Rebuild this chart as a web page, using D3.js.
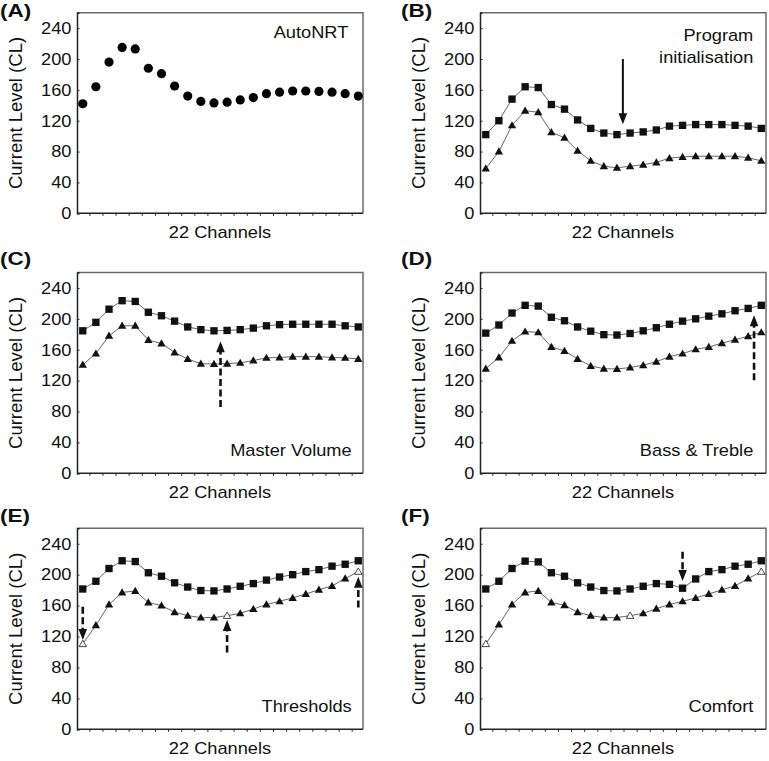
<!DOCTYPE html>
<html>
<head>
<meta charset="utf-8">
<script src="https://cdn.jsdelivr.net/npm/d3@7/dist/d3.min.js"></script>
<style>
  html, body { margin: 0; padding: 0; background: #fff; }
  svg { display: block; }
  text { font-family: "Liberation Sans", Arial, sans-serif; fill: #111; }
</style>
</head>
<body>
<svg id="chart" width="769" height="761"></svg>
<script>
// ---------------- DATA ----------------
const channels = d3.range(1, 23);
const yTicks = [0, 40, 80, 120, 160, 200, 240];
const xAxisLabel = "22 Channels";
const yAxisLabel = "Current Level (CL)";

const autoNRT = [142,164,196,215,213,188,181,165,152,145,143,144,147,150,155,157,158.5,158.5,158,157,155,152];

const progComfort = [102,120,148,164,163,141,135,121,110,104,102,104,105.5,108,113,114,115,115,115,114,113,110];
const progThreshold = [58,80,114,133,131,105,98,81,68,61,59,61,63,66,71.5,73,74,74,74,74,72,68];

const volComfort = [184.5,195.5,212.5,223.5,222.5,208.5,204,197,189.5,186,184.5,185,186,188,191,192.5,193,193,193,193,191,189.5];
const volThreshold = [140.5,155,178,191,191,172.5,168,156.5,148,142,141.5,142,143,146,149.5,150,151,151,151,150,149.5,148];

const btComfort = [181.5,192,207.5,217.5,216.5,202,197.5,189.5,184,179.5,179,181,184.5,188.5,193,197,200,203.5,206.5,210.5,213.5,217.5];
const btThreshold = [135.5,150,171.5,183.5,182.5,163.5,158.5,148,139,135.5,135,137,140,144.5,151,155,160.5,163.5,168.5,173,177.5,182.5];

const thrComfort = [181.5,191.5,208,218,217,202.5,198,189.5,184,179.5,179,181.5,185,188.5,193,197,200,204,206.5,211,213.5,218];
const thrThreshold = [110.5,134.5,161.5,177,179,164,160,151.5,147,144.5,144.5,147,150,155.5,161.5,165.5,170,175,180.5,185.5,195,204];
const thrOpen = [1, 12, 22];

const cmfComfort = [181.5,191.5,208,217.5,216.5,202.5,198,189.5,184,179.5,179,181.5,185,188.5,187.5,182.5,194.5,204,206.5,211,213.5,218];
const cmfThreshold = [110.5,135.5,161.5,177,179,164,160.5,151.5,147,144.5,144.5,147,150,156,161.5,165.5,170,175,180.5,185.5,195,204];
const cmfOpen = [1, 12, 22];

// arrows: channel position, value at tail, value at tip
const arrowsB = [{x: 11.45, from: 200, to: 115.5, dashed: false}];
const arrowsC = [{x: 11.5, from: 86, to: 171, dashed: true}];
const arrowsD = [{x: 21.45, from: 120.5, to: 204.5, dashed: true}];
const arrowsE = [
  {x: 1, from: 158.5, to: 115.5, dashed: true},
  {x: 12, from: 99.5, to: 141.3, dashed: true},
  {x: 22, from: 157.7, to: 197.3, dashed: true}
];
const arrowsF = [{x: 16, from: 229.6, to: 191.7, dashed: true}];

// ---------------- LAYOUT ----------------
const cols = [{l: 77, r: 363}, {l: 480, r: 766}];
const rows = [{t: 12.7, b: 213.3}, {t: 272.5, b: 473.3}, {t: 528.3, b: 729.3}];
const SX = 1.14; // horizontal text stretch of the original figure

const panels = [
  {letter: "(A)", col: 0, row: 0, lx: 0, ly: 16.5, notes: ["AutoNRT"], noteTop: true, noteBase: 25.6, noteInset: 14.7,
   series: [{values: autoNRT, shape: "circle", line: false}], arrows: []},
  {letter: "(B)", col: 1, row: 0, lx: 401, ly: 16.5, notes: ["Program", "initialisation"], noteTop: true, noteBase: 28.7, noteInset: 12.7,
   series: [{values: progComfort, shape: "square", line: true}, {values: progThreshold, shape: "triangle", line: true}], arrows: arrowsB},
  {letter: "(C)", col: 0, row: 1, lx: 0, ly: 265, notes: ["Master Volume"], noteTop: false, noteBase: -17.3, noteInset: 11.3,
   series: [{values: volComfort, shape: "square", line: true}, {values: volThreshold, shape: "triangle", line: true}], arrows: arrowsC},
  {letter: "(D)", col: 1, row: 1, lx: 401, ly: 265, notes: ["Bass & Treble"], noteTop: false, noteBase: -17.3, noteInset: 12.7,
   series: [{values: btComfort, shape: "square", line: true}, {values: btThreshold, shape: "triangle", line: true}], arrows: arrowsD},
  {letter: "(E)", col: 0, row: 2, lx: 0, ly: 521.5, notes: ["Thresholds"], noteTop: false, noteBase: -17.6, noteInset: 11.3,
   series: [{values: thrComfort, shape: "square", line: true}, {values: thrThreshold, shape: "triangle", line: true, open: thrOpen}], arrows: arrowsE},
  {letter: "(F)", col: 1, row: 2, lx: 401, ly: 521.5, notes: ["Comfort"], noteTop: false, noteBase: -17.6, noteInset: 12.7,
   series: [{values: cmfComfort, shape: "square", line: true}, {values: cmfThreshold, shape: "triangle", line: true, open: cmfOpen}], arrows: arrowsF}
];

const svg = d3.select("#chart");

function sText(parent, x, y, str, size, anchor, weight, sx) {
  const g = parent.append("g").attr("transform", `translate(${x},${y}) scale(${sx || SX},1)`);
  return g.append("text").attr("x", 0).attr("y", 0)
    .attr("font-size", size).attr("text-anchor", anchor || "start")
    .attr("font-weight", weight || "normal").text(str);
}

const sqSym = d3.symbol().type(d3.symbolSquare).size(54);
const triSym = d3.symbol().type(d3.symbolTriangle).size(30);
const triOpenSym = d3.symbol().type(d3.symbolTriangle).size(24);

panels.forEach(p => {
  const c = cols[p.col], r = rows[p.row];
  const x = d3.scaleLinear().domain([0.56, 22.36]).range([c.l, c.r]);
  const y = d3.scaleLinear().domain([0, 260]).range([r.b, r.t]);
  const g = svg.append("g");

  // frame (top/right in grey)
  g.append("path")
    .attr("d", `M${c.l},${r.t}H${c.r}V${r.b}`)
    .attr("fill", "none").attr("stroke", "#6a6a6a").attr("stroke-width", 1.5);

  // y axis: ticks pointing inward
  const ya = d3.axisRight(y).tickValues(yTicks).tickSize(2.5).tickFormat("");
  const yg = g.append("g").attr("transform", `translate(${c.l},0)`).call(ya);
  yg.select(".domain").attr("stroke", "#222").attr("stroke-width", 1.5);
  yg.selectAll(".tick line").attr("stroke", "#222").attr("stroke-width", 1);
  yTicks.forEach(v => {
    sText(g, c.l - 5.5, y(v) + 5.8, String(v), 16, "end");
  });

  // x axis: ticks between channels pointing down
  const xa = d3.axisBottom(x).tickValues(d3.range(1.5, 22, 1)).tickSize(2.5).tickFormat("");
  const xg = g.append("g").attr("transform", `translate(0,${r.b})`).call(xa);
  xg.select(".domain").attr("d", `M${c.l},0H${c.r}`).attr("stroke", "#222").attr("stroke-width", 1.5);
  xg.selectAll(".tick line").attr("stroke", "#222").attr("stroke-width", 1);

  // axis titles
  sText(g, (c.l + c.r) / 2, r.b + 24.3, xAxisLabel, 16, "middle");
  g.append("text")
    .attr("transform", `translate(${c.l - 55.5},${(r.t + r.b) / 2}) rotate(-90)`)
    .attr("text-anchor", "middle").attr("font-size", 18.5)
    .text(yAxisLabel);

  // panel letter
  sText(svg, p.lx, p.ly, p.letter, 18, "start", "bold", 1.25);

  // notes
  p.notes.forEach((n, i) => {
    const base = p.noteTop ? r.t + p.noteBase + i * 21.7 : r.b + p.noteBase;
    sText(g, c.r - p.noteInset, base, n, 16, "end");
  });

  // series
  p.series.forEach(s => {
    const pts = s.values.map((v, i) => ({ch: channels[i], v}));
    if (s.line) {
      g.append("path").datum(pts)
        .attr("d", d3.line().x(d => x(d.ch)).y(d => y(d.v)))
        .attr("fill", "none").attr("stroke", "#666").attr("stroke-width", 1);
    }
    const open = s.open || [];
    const m = g.append("g").selectAll("path").data(pts).join("path")
      .attr("transform", d => `translate(${x(d.ch)},${y(d.v) + (s.shape === "triangle" ? 0.6 : 0)})`);
    if (s.shape === "circle") {
      m.attr("d", d3.symbol().type(d3.symbolCircle).size(Math.PI * 4.6 * 4.6)).attr("fill", "#000");
    } else if (s.shape === "square") {
      m.attr("d", sqSym).attr("fill", "#111");
    } else {
      m.attr("d", d => open.includes(d.ch) ? triOpenSym() : triSym())
        .attr("fill", d => open.includes(d.ch) ? "#fff" : "#111")
        .attr("stroke", d => open.includes(d.ch) ? "#333" : "none")
        .attr("stroke-width", 0.9);
    }
  });

  // arrows
  p.arrows.forEach(a => {
    const ax = x(a.x), y0 = y(a.from), y1 = y(a.to);
    const dir = y1 > y0 ? 1 : -1; // screen direction
    const head = 11, hw = 4.3;
    const shaftEnd = y1 - dir * (head - 1);
    g.append("line")
      .attr("x1", ax).attr("x2", ax).attr("y1", y0).attr("y2", shaftEnd)
      .attr("stroke", "#111").attr("stroke-width", a.dashed ? 2.6 : 2)
      .attr("stroke-dasharray", a.dashed ? "7,3.5" : null);
    g.append("path")
      .attr("d", `M${ax},${y1}L${ax - hw},${y1 - dir * head}L${ax + hw},${y1 - dir * head}Z`)
      .attr("fill", "#111");
  });
});
</script>
</body>
</html>
